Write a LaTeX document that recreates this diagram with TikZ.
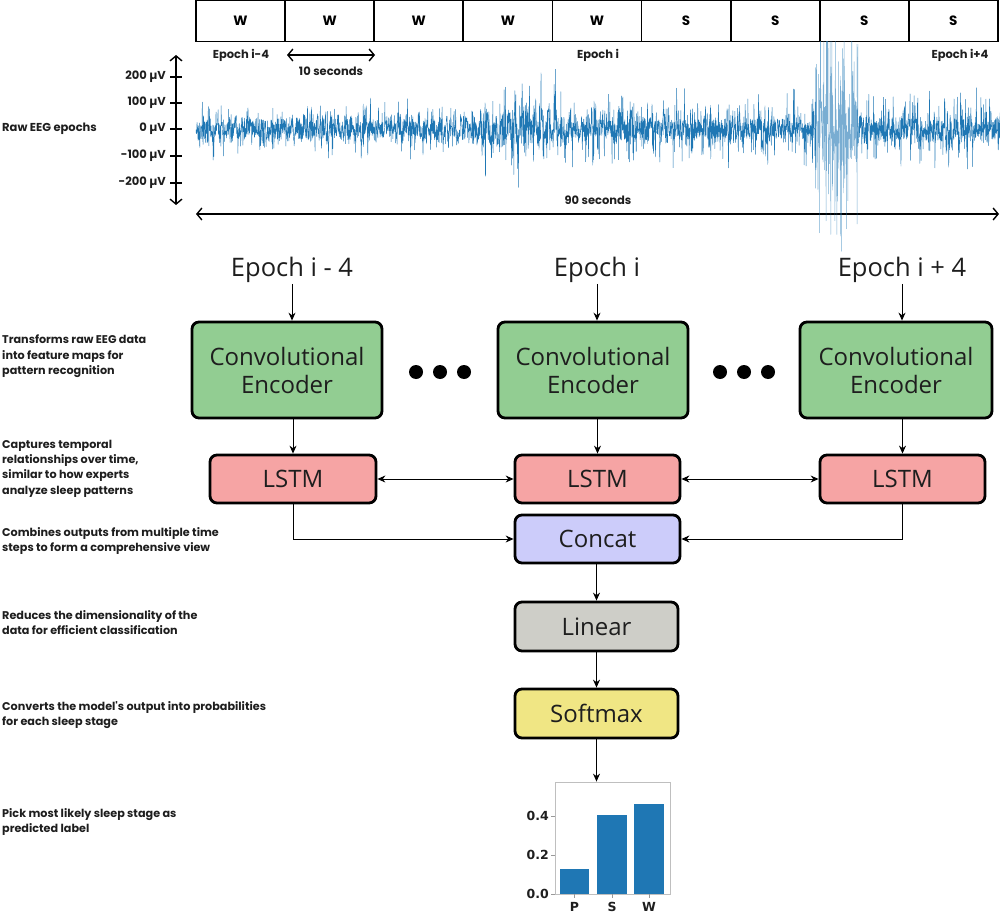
\documentclass[tikz,border=0pt]{standalone}
\usepackage{fontspec}
\setmainfont{Open Sans}
\newfontfamily\pop{Poppins}
\newfontfamily\dvs{DejaVu Sans}
\usetikzlibrary{arrows.meta}
\definecolor{convg}{RGB}{146,205,146}
\definecolor{lstmr}{RGB}{246,164,164}
\definecolor{concatb}{RGB}{204,204,250}
\definecolor{lingray}{RGB}{206,206,200}
\definecolor{softy}{RGB}{240,230,132}
\definecolor{eegblue}{RGB}{31,119,180}
\definecolor{txt}{RGB}{30,30,30}
\begin{document}
\begin{tikzpicture}[x=1pt,y=-1pt,
  block/.style={draw=black, line width=2.8pt, rounded corners=7pt, align=center, inner sep=0pt,
    text=txt, font=\fontsize{24}{28}\selectfont},
  stagebox/.style={draw=black, line width=1.8pt, minimum width=89.1pt, minimum height=41pt, inner sep=0pt,
    font=\pop\bfseries\fontsize{13.5}{15}\selectfont},
  small/.style={font=\pop\bfseries\fontsize{11.5}{13}\selectfont, text=txt, inner sep=0pt},
  labtext/.style={font=\pop\bfseries\fontsize{11.2}{15.2}\selectfont, text=txt, align=left, anchor=north west, inner sep=0pt},
  eptext/.style={font=\fontsize{25.5}{29}\selectfont, text=txt, inner sep=1pt},
  charttext/.style={font=\dvs\bfseries\fontsize{12.5}{14}\selectfont, text=txt, inner sep=0pt},
  arr/.style={line width=1pt, -{Stealth[length=8pt,width=7pt]}},
  arrb/.style={line width=1pt, {Stealth[length=8pt,width=7pt]}-{Stealth[length=8pt,width=7pt]}},
  barb/.style={line width=1.4pt, {Straight Barb[length=5pt,width=12pt]}-{Straight Barb[length=5pt,width=12pt]}},
  dot/.style={circle, fill=black, minimum size=14pt, inner sep=0pt},
  eeg/.style={eegblue, line width=0.45pt, line join=round},
  declare function={
    amp(\t)=(\t<300)?13:((\t<480)?15:((\t<565)?22:((\t<815)?14:((\t<858)?45:15))));
    spk(\t)=(\t<480)?22:((\t<565)?45:((\t<815)?30:((\t<858)?115:38)));
    sig(\t)=129 + amp(\t)*(0.75*rand + 0.25*sin(53*mod(\t,6.7925))) + spk(\t)*rand^5;
  }
]
\useasboundingbox (0,0) rectangle (1000,920);

% stage boxes
\foreach \lab [count=\i] in {W,W,W,W,W,S,S,S,S}{
  \node[stagebox] (s\i) at ({196+89.1*(\i-0.5)},21) {\lab};
}
\node[small] (e1) at (241,55) {Epoch i-4};
\node[small] (e2) at (598,55) {Epoch i};
\node[small] (e3) at (960,55) {Epoch i+4};
\coordinate (t1) at (287,55);
\coordinate (t2) at (375,55);
\draw[barb] (t1) -- (t2);
\node[small] (tens) at (331,71) {10 seconds};

% EEG axis
\coordinate (ax1) at (176,55);
\coordinate (ax2) at (176,205);
\draw[line width=1.4pt, {Straight Barb[length=5pt,width=12pt]}-{Straight Barb[length=5pt,width=12pt]}] (ax1) -- (ax2);
\foreach \yy/\lab [count=\k] in {77/200,103/100,129/0,156/-100,183/-200}{
  \draw[line width=1.4pt] (170,\yy) -- (182,\yy);
  \node[small, anchor=east] (yl\k) at (166,\yy) {\lab\ µV};
}
\node[small, anchor=west] (raw) at (2,129) {Raw EEG epochs};

% 90 seconds
\coordinate (n1) at (196,214);
\coordinate (n2) at (999,214);
\draw[barb] (n1) -- (n2);
\node[small] (ninety) at (598,200) {90 seconds};

% EEG signal
\pgfmathsetseed{4242}
\begin{scope}
\clip (190,42) rectangle (1000,254);
\draw[eeg] plot[domain=196:816, samples=2470] (\x, {sig(\x)});
\draw[eeg, opacity=0.6] plot[domain=815:858, samples=200] (\x, {sig(\x)});
\draw[eeg] plot[domain=857:1000, samples=570] (\x, {sig(\x)});
\end{scope}

% epoch labels
\node[eptext] (ep1) at (292,270) {Epoch i - 4};
\node[eptext] (ep2) at (597,270) {Epoch i};
\node[eptext] (ep3) at (902,270) {Epoch i + 4};

% conv encoders
\node[block, fill=convg, minimum width=190pt, minimum height=96pt] (conv1) at (287,370) {Convolutional\\Encoder};
\node[block, fill=convg, minimum width=190pt, minimum height=96pt] (conv2) at (593,370) {Convolutional\\Encoder};
\node[block, fill=convg, minimum width=192pt, minimum height=96pt] (conv3) at (896,370) {Convolutional\\Encoder};

\node[dot] (d1) at (416,372) {};
\node[dot] (d2) at (440,372) {};
\node[dot] (d3) at (464,372) {};
\node[dot] (d4) at (720,372) {};
\node[dot] (d5) at (744,372) {};
\node[dot] (d6) at (768,372) {};

% LSTMs
\node[block, fill=lstmr, minimum width=166pt, minimum height=48pt] (lstm1) at (293,479) {LSTM};
\node[block, fill=lstmr, minimum width=165pt, minimum height=48pt] (lstm2) at (597.5,479) {LSTM};
\node[block, fill=lstmr, minimum width=165pt, minimum height=48pt] (lstm3) at (902.5,479) {LSTM};

\node[block, fill=concatb, minimum width=165pt, minimum height=48pt] (concat) at (597.5,539) {Concat};
\node[block, fill=lingray, minimum width=163pt, minimum height=49pt] (linear) at (596.5,626.5) {Linear};
\node[block, fill=softy, minimum width=163pt, minimum height=49pt] (softmax) at (596.5,713.5) {Softmax};

% arrows
\draw[arr] (ep1.south) -- (ep1.south |- conv1.north);
\draw[arr] (ep2.south) -- (ep2.south |- conv2.north);
\draw[arr] (ep3.south) -- (ep3.south |- conv3.north);
\draw[arr] (lstm1.north |- conv1.south) -- (lstm1.north);
\draw[arr] (lstm2.north |- conv2.south) -- (lstm2.north);
\draw[arr] (lstm3.north |- conv3.south) -- (lstm3.north);
\draw[arrb] (lstm1.east) -- (lstm2.west);
\draw[arrb] (lstm2.east) -- (lstm3.west);
\draw[arr] (lstm1.south) |- (concat.west);
\draw[arr] (lstm3.south) |- (concat.east);
\draw[arr] (concat.south -| linear.north) -- (linear.north);
\draw[arr] (linear.south) -- (softmax.north);

% bar chart
\node[draw=black!25, line width=0.8pt, minimum width=115pt, minimum height=112pt, inner sep=0pt] (chart) at (612.5,838) {};
\draw[arr] (softmax.south) -- (softmax.south |- chart.north);
\fill[eegblue] (560,894) rectangle (589,869);
\fill[eegblue] (597,894) rectangle (627,815);
\fill[eegblue] (634,894) rectangle (664,804);
\foreach \yy/\lab [count=\k] in {894/0.0,855/0.2,816/0.4}{
  \draw[black!40, line width=0.8pt] (551,\yy) -- (555,\yy);
  \node[charttext, anchor=east] (ct\k) at (549,\yy) {\lab};
}
\foreach \xx/\lab [count=\k] in {574.5/P,612/S,649/W}{
  \draw[black!40, line width=0.8pt] (\xx,894) -- (\xx,898);
  \node[charttext] (cx\k) at (\xx,907) {\lab};
}

% left descriptions
\node[labtext] (l1) at (2,335) {Transforms raw EEG data\\into feature maps for\\pattern recognition};
\node[labtext] (l2) at (2,440) {Captures temporal\\relationships over time,\\similar to how experts\\analyze sleep patterns};
\node[labtext] (l3) at (2,527) {Combines outputs from multiple time\\steps to form a comprehensive view};
\node[labtext] (l4) at (2,610) {Reduces the dimensionality of the\\data for efficient classification};
\node[labtext] (l5) at (2,701) {Converts the model's output into probabilities\\for each sleep stage};
\node[labtext] (l6) at (2,808) {Pick most likely sleep stage as\\predicted label};
\end{tikzpicture}
\end{document}
